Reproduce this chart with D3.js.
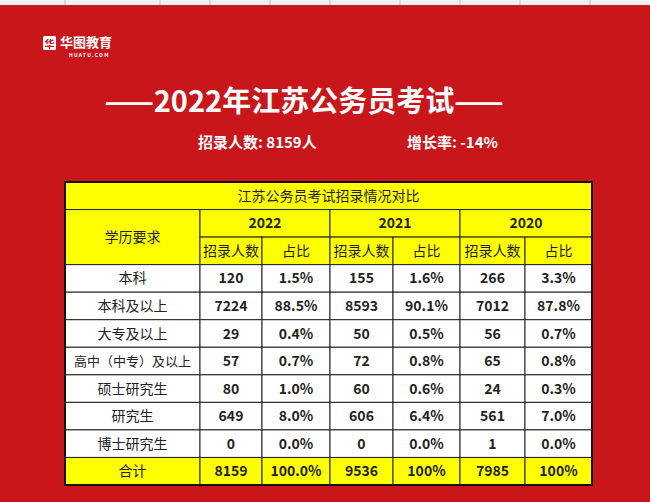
<!DOCTYPE html>
<html><head><meta charset="utf-8">
<script src="https://cdn.jsdelivr.net/npm/d3@7"></script>
<style>body{margin:0;background:#c8161b}svg{display:block}text{font-family:"Noto Sans CJK SC","Noto Sans",sans-serif}</style>
</head><body><svg id="c" width="650" height="502"></svg>
<script>
const years = ["2022", "2021", "2020"];
const subHeads = ["招录人数", "占比"];
const categories = ["本科", "本科及以上", "大专及以上", "高中（中专）及以上", "硕士研究生", "研究生", "博士研究生"];
const counts2022 = [120, 7224, 29, 57, 80, 649, 0];
const share2022 = ["1.5%", "88.5%", "0.4%", "0.7%", "1.0%", "8.0%", "0.0%"];
const counts2021 = [155, 8593, 50, 72, 60, 606, 0];
const share2021 = ["1.6%", "90.1%", "0.5%", "0.8%", "0.6%", "6.4%", "0.0%"];
const counts2020 = [266, 7012, 56, 65, 24, 561, 1];
const share2020 = ["3.3%", "87.8%", "0.7%", "0.8%", "0.3%", "7.0%", "0.0%"];
const totals = ["8159", "100.0%", "9536", "100%", "7985", "100%"];

const svg = d3.select("#c");
svg.append("rect").attr("width", 650).attr("height", 502).attr("fill", "#c8161b");
// spreadsheet strip at top
svg.append("rect").attr("width", 650).attr("height", 5).attr("fill", "#f2f2f2");
[65, 160, 210, 270, 330, 400, 460, 520, 590].forEach(x =>
  svg.append("line").attr("x1", x).attr("x2", x).attr("y1", 0).attr("y2", 5).attr("stroke", "#bbb"));

// logo
const logo = svg.append("g").attr("transform", "translate(43,36)");
logo.append("rect").attr("width", 13).attr("height", 14).attr("rx", 1.5).attr("fill", "#fff");
logo.append("text").attr("x", 6.5).attr("y", 11.5).attr("text-anchor", "middle").attr("fill", "#c8161b")
  .attr("font-size", 10).attr("font-weight", 700).text("华");
logo.append("text").attr("x", 17).attr("y", 11).attr("fill", "#fff").attr("font-size", 13).attr("font-weight", 700).text("华图教育");
logo.append("text").attr("x", 26).attr("y", 21).attr("fill", "#fff").attr("font-size", 5).attr("font-weight", 700).attr("letter-spacing", 1.2).text("HUATU.COM");

svg.append("text").attr("x", 304).attr("y", 112).attr("text-anchor", "middle").attr("fill", "#fff")
  .attr("font-size", 29).attr("font-weight", 700).text("——2022年江苏公务员考试——");
svg.append("text").attr("x", 198).attr("y", 148).attr("fill", "#fff").attr("font-size", 15).attr("font-weight", 700).text("招录人数: 8159人");
svg.append("text").attr("x", 407).attr("y", 148).attr("fill", "#fff").attr("font-size", 15).attr("font-weight", 700).text("增长率: -14%");

// table geometry
const colEdges = [65, 200, 262, 330, 393, 460, 525, 592];
const y = d3.scaleLinear().domain([0, 11]).range([182, 485]); // 11 row bands
const t = svg.append("g");
function cell(x0, x1, r0, r1, txt, fill, bold, size) {
  t.append("rect").attr("x", x0).attr("y", y(r0)).attr("width", x1 - x0).attr("height", y(r1) - y(r0))
    .attr("fill", fill).attr("stroke", "#222").attr("stroke-width", 1);
  t.append("text").attr("x", (x0 + x1) / 2).attr("y", (y(r0) + y(r1)) / 2 + 5).attr("text-anchor", "middle")
    .attr("fill", "#222").attr("font-size", size || 13).attr("font-weight", bold ? 700 : 400).text(txt);
}
const Y = "#ffff00";
cell(65, 592, 0, 1, "江苏公务员考试招录情况对比", Y, false, 14);
cell(65, 200, 1, 3, "学历要求", Y, false, 14);
years.forEach((yr, i) => {
  cell(colEdges[1 + i * 2], colEdges[3 + i * 2], 1, 2, yr, Y, true, 14);
  subHeads.forEach((s, j) => cell(colEdges[1 + i * 2 + j], colEdges[2 + i * 2 + j], 2, 3, s, Y, false, 14));
});
const cols = [counts2022, share2022, counts2021, share2021, counts2020, share2020];
categories.forEach((c, r) => {
  cell(65, 200, 3 + r, 4 + r, c, "#fff", false, c.length > 6 ? 13 : 14);
  cols.forEach((arr, k) => cell(colEdges[1 + k], colEdges[2 + k], 3 + r, 4 + r, String(arr[r]), "#fff", true, 14));
});
cell(65, 200, 10, 11, "合计", Y, false, 14);
totals.forEach((v, k) => cell(colEdges[1 + k], colEdges[2 + k], 10, 11, v, Y, true, 14));
t.append("rect").attr("x", 65).attr("y", 182).attr("width", 527).attr("height", 303).attr("fill", "none").attr("stroke", "#111").attr("stroke-width", 2);
</script></body></html>
